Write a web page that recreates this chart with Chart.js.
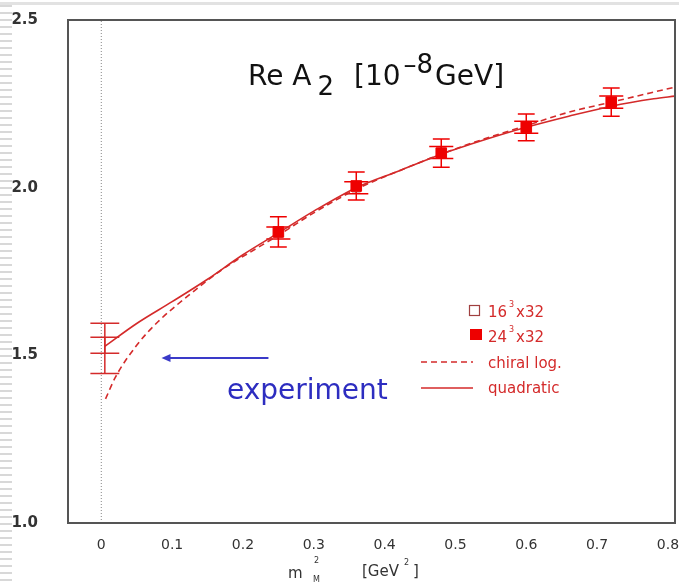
<!DOCTYPE html>
<html>
<head>
<meta charset="utf-8">
<script src="https://cdn.jsdelivr.net/npm/chart.js@4.4.1/dist/chart.umd.min.js"></script>
<style>
  html, body { margin: 0; padding: 0; background: #fff; }
  #wrap { position: relative; width: 679px; height: 583px; }
  #stripes { position: absolute; left: 0; top: 0; width: 12px; height: 583px;
    background: repeating-linear-gradient(to bottom, #fff 0px, #fff 5px, #d8d8d8 5px, #d8d8d8 7px); }
  #topline { position: absolute; left: 0; top: 2px; width: 679px; height: 3px; background: #e2e2e2; }
  canvas { position: absolute; left: 0; top: 0; }
</style>
</head>
<body>
<div id="wrap">
  <div id="stripes"></div>
  <div id="topline"></div>
  <canvas id="grafico" width="679" height="583"></canvas>
</div>
<script>
// pontos da rede (m_M^2 em GeV^2)
const mSq = [0.25, 0.36, 0.48, 0.60, 0.72];
const a2L24 = [1.868, 2.005, 2.103, 2.18, 2.255];
const err24 = [0.045, 0.042, 0.042, 0.04, 0.042];
const a2L16 = [1.865, 2.0, 2.105, 2.18, 2.255];
const err16 = [0.018, 0.018, 0.018, 0.018, 0.018];

// extrapolação em m^2 = 0
const extX = [0.005, 0.005];
const extY = [1.551, 1.50];
const extErr = [0.045, 0.054];

// curvas
const quadX = [0.005, 0.05, 0.1, 0.15, 0.2, 0.25, 0.3, 0.36, 0.42, 0.48, 0.54, 0.6, 0.66, 0.72, 0.78, 0.81];
const quadY = [1.527, 1.595, 1.66, 1.727, 1.80, 1.865, 1.93, 2.0, 2.05, 2.10, 2.142, 2.18, 2.213, 2.243, 2.265, 2.273];
const chiX = [0.006, 0.02, 0.05, 0.08, 0.13, 0.17, 0.22, 0.25, 0.3, 0.36, 0.42, 0.48, 0.54, 0.6, 0.66, 0.72, 0.78, 0.81];
const chiY = [1.37, 1.435, 1.53, 1.60, 1.69, 1.755, 1.82, 1.858, 1.925, 1.995, 2.05, 2.10, 2.145, 2.185, 2.225, 2.255, 2.285, 2.30];

// valor experimental (seta)
const expX = [0.085, 0.236];
const expY = 1.492;

const xTicks = [0, 0.1, 0.2, 0.3, 0.4, 0.5, 0.6, 0.7, 0.8];
const yTicks = [1.0, 1.5, 2.0, 2.5];

const redLine = "#d42a2a";
const redPt = "#ee0000";
const fonte = "'DejaVu Sans', sans-serif";

function pts(xs, ys) {
  return xs.map((x, i) => ({ x: x, y: ys[i] }));
}

// barras de erro, moldura, textos
const extras = {
  id: "extras",
  beforeDatasetsDraw(chart) {
    const ctx = chart.ctx;
    const sx = chart.scales.x, sy = chart.scales.y;
    const capW = sx.getPixelForValue(0.017) - sx.getPixelForValue(0);
    ctx.save();
    ctx.strokeStyle = redPt;
    ctx.lineWidth = 1.5;
    const bars = (xs, ys, es, w) => {
      xs.forEach((x, i) => {
        const px = sx.getPixelForValue(x);
        const top = sy.getPixelForValue(ys[i] + es[i]);
        const bot = sy.getPixelForValue(ys[i] - es[i]);
        ctx.beginPath();
        ctx.moveTo(px, top); ctx.lineTo(px, bot);
        ctx.moveTo(px - w, top); ctx.lineTo(px + w, top);
        ctx.moveTo(px - w, bot); ctx.lineTo(px + w, bot);
        ctx.stroke();
      });
    };
    bars(mSq, a2L24, err24, capW * 0.7);
    bars(mSq, a2L16, err16, capW);
    ctx.strokeStyle = redLine;
    bars(extX, extY, extErr, capW * 1.2);
    ctx.restore();
  },
  afterDraw(chart) {
    const ctx = chart.ctx;
    const a = chart.chartArea;
    const sx = chart.scales.x, sy = chart.scales.y;
    ctx.save();
    // moldura
    ctx.strokeStyle = "#555";
    ctx.lineWidth = 2;
    ctx.strokeRect(a.left, a.top, a.right - a.left, a.bottom - a.top);

    // seta do experimento
    const x1 = sx.getPixelForValue(expX[0]), x2 = sx.getPixelForValue(expX[1]);
    const yy = sy.getPixelForValue(expY);
    ctx.strokeStyle = "#3a3ac8";
    ctx.fillStyle = "#3a3ac8";
    ctx.lineWidth = 2;
    ctx.beginPath(); ctx.moveTo(x1 + 6, yy); ctx.lineTo(x2, yy); ctx.stroke();
    ctx.beginPath(); ctx.moveTo(x1, yy); ctx.lineTo(x1 + 9, yy - 4); ctx.lineTo(x1 + 9, yy + 4); ctx.closePath(); ctx.fill();
    ctx.fillStyle = "#2d2dc0";
    ctx.font = "28px " + fonte;
    ctx.textBaseline = "alphabetic";
    ctx.fillText("experiment", 227, 399);

    // título
    ctx.fillStyle = "#111";
    let x = 248;
    const part = (t, size, dy) => {
      ctx.font = size + "px " + fonte;
      ctx.fillText(t, x, 85 + dy);
      x += ctx.measureText(t).width;
    };
    part("Re A", 28, 0);
    x += 6;
    part("2", 26, 10);
    x += 20;
    part("[10", 28, 0);
    x += 3;
    part("\u20138", 26, -12);
    x += 2;
    part("GeV]", 28, 0);

    // legenda
    ctx.font = "15px " + fonte;
    ctx.strokeStyle = "#a04040";
    ctx.lineWidth = 1.2;
    ctx.strokeRect(469.5, 305.5, 10, 10);
    ctx.fillStyle = redPt;
    ctx.fillRect(470, 329, 12, 11);
    ctx.fillStyle = redLine;
    const sup = (base, s, rest, bx, by) => {
      ctx.font = "15px " + fonte;
      ctx.fillText(base, bx, by);
      let w = ctx.measureText(base).width;
      ctx.font = "8px " + fonte;
      ctx.fillText(s, bx + w + 2, by - 10);
      ctx.font = "15px " + fonte;
      ctx.fillText(rest, bx + w + 9, by);
    };
    sup("16", "3", "x32", 488, 317);
    sup("24", "3", "x32", 488, 342);
    ctx.fillText("chiral log.", 488, 368);
    ctx.fillText("quadratic", 488, 393);
    ctx.strokeStyle = redLine;
    ctx.lineWidth = 1.5;
    ctx.setLineDash([6, 4]);
    ctx.beginPath(); ctx.moveTo(421, 362); ctx.lineTo(473, 362); ctx.stroke();
    ctx.setLineDash([]);
    ctx.beginPath(); ctx.moveTo(421, 388); ctx.lineTo(473, 388); ctx.stroke();

    // título do eixo x
    ctx.fillStyle = "#333";
    ctx.font = "15px " + fonte;
    ctx.fillText("m", 288, 578);
    ctx.font = "8px " + fonte;
    ctx.fillText("2", 314, 563);
    ctx.fillText("M", 313, 582);
    ctx.font = "15px " + fonte;
    ctx.fillText("[GeV", 362, 576);
    ctx.font = "8px " + fonte;
    ctx.fillText("2", 404, 565);
    ctx.font = "15px " + fonte;
    ctx.fillText("]", 413, 576);
    ctx.restore();
  }
};

document.addEventListener("DOMContentLoaded", () => {
  const ctx = document.getElementById("grafico").getContext("2d");

  const datasets = [
    {
      label: "zero",
      data: [{ x: 0, y: 1.0 }, { x: 0, y: 2.5 }],
      showLine: true,
      borderColor: "#888",
      borderWidth: 1,
      borderDash: [1, 2],
      pointRadius: 0,
      order: 5,
    },
    {
      label: "quadratic",
      data: pts(quadX, quadY),
      showLine: true,
      borderColor: redLine,
      borderWidth: 1.6,
      cubicInterpolationMode: "monotone",
      pointRadius: 0,
      order: 4,
    },
    {
      label: "chiral log.",
      data: pts(chiX, chiY),
      showLine: true,
      borderColor: redLine,
      borderWidth: 1.6,
      borderDash: [6, 4],
      cubicInterpolationMode: "monotone",
      pointRadius: 0,
      order: 3,
    },
    {
      label: "16^3x32",
      data: pts(mSq, a2L16),
      pointStyle: "rect",
      pointRadius: 6,
      backgroundColor: "#fff",
      borderColor: "#b04040",
      borderWidth: 1,
      order: 2,
    },
    {
      label: "24^3x32",
      data: pts(mSq, a2L24),
      pointStyle: "rect",
      pointRadius: 7.5,
      backgroundColor: redPt,
      borderColor: redPt,
      borderWidth: 1,
      order: 1,
    },
  ];

  new Chart(ctx, {
    type: "scatter",
    data: { datasets: datasets },
    plugins: [extras],
    options: {
      responsive: false,
      animation: false,
      layout: { autoPadding: false, padding: { left: 0, right: 4, top: 20, bottom: 0 } },
      plugins: { legend: { display: false }, tooltip: { enabled: false } },
      scales: {
        x: {
          type: "linear",
          min: -0.047,
          max: 0.81,
          afterFit: (s) => { s.height = 60; s.paddingLeft = 0; s.paddingRight = 0; },
          afterBuildTicks: (s) => { s.ticks = xTicks.map((v) => ({ value: v })); },
          grid: { display: false, drawTicks: false },
          border: { display: false },
          ticks: {
            padding: 14,
            color: "#333",
            font: { family: "DejaVu Sans", size: 14 },
            callback: (v) => (v === 0 ? "0" : v.toFixed(1)),
          },
        },
        y: {
          type: "linear",
          min: 1.0,
          max: 2.5,
          afterFit: (s) => { s.width = 68; s.paddingTop = 0; s.paddingBottom = 0; },
          afterBuildTicks: (s) => { s.ticks = yTicks.map((v) => ({ value: v })); },
          grid: { display: false, drawTicks: false },
          border: { display: false },
          ticks: {
            padding: 30,
            color: "#333",
            font: { family: "DejaVu Sans", size: 15, weight: "bold" },
            callback: (v) => v.toFixed(1),
          },
        },
      },
    },
  });
});
</script>
</body>
</html>
